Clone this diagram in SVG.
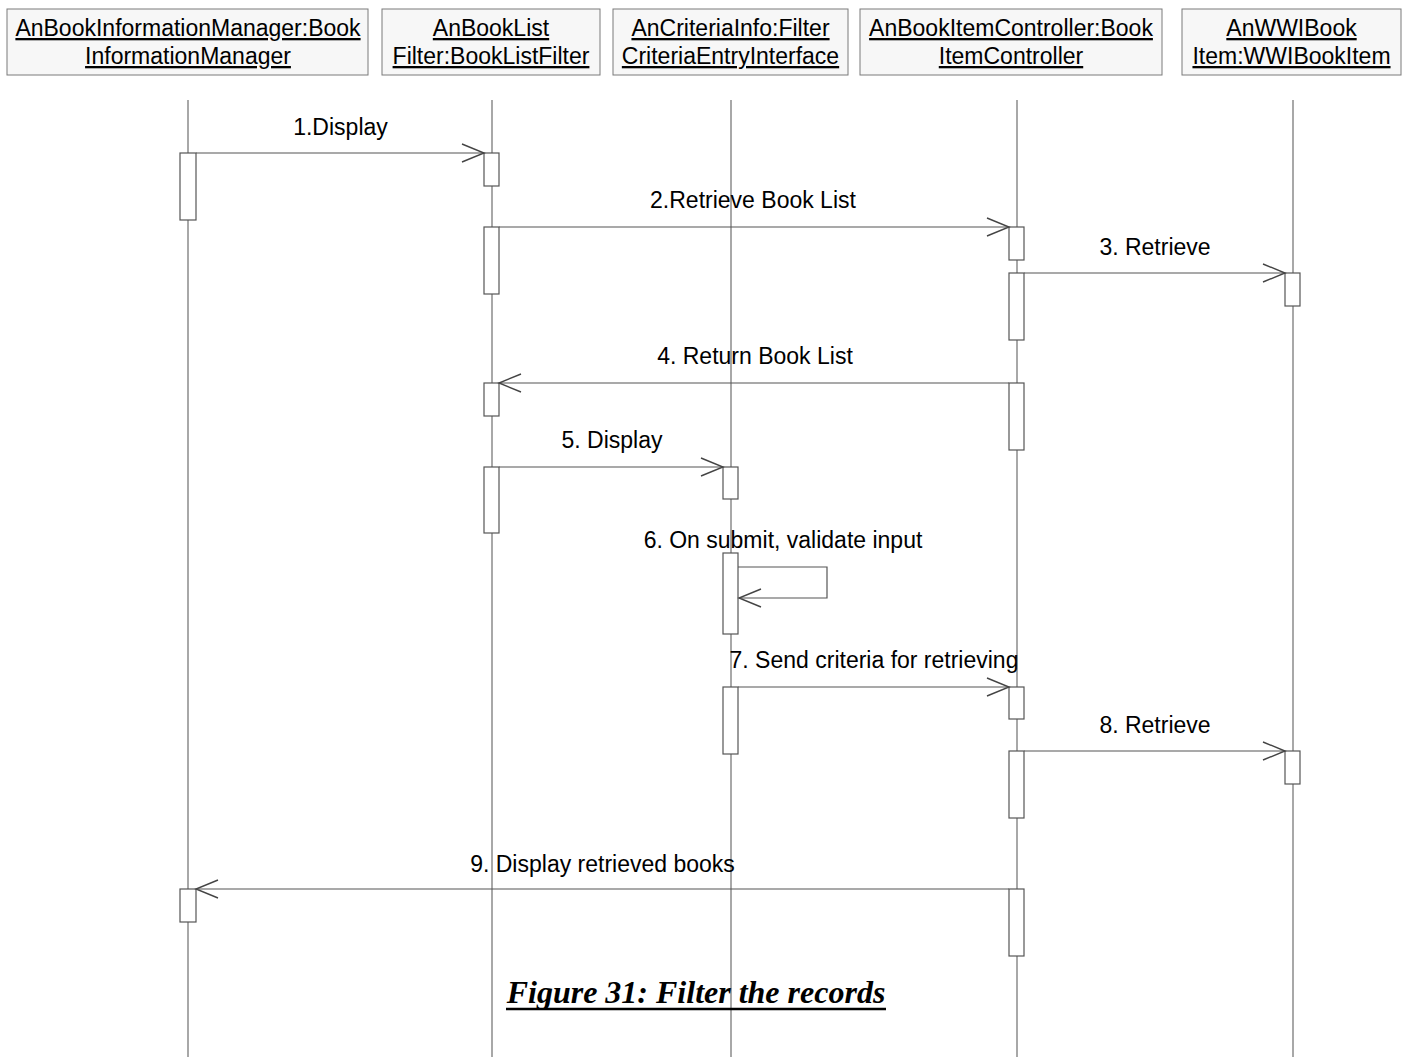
<svg xmlns="http://www.w3.org/2000/svg" width="1408" height="1057" viewBox="0 0 1408 1057">
<style>
.box{fill:#f7f7f7;stroke:#7a7a7a;stroke-width:1}
.nt{font-family:"Liberation Sans",Arial,sans-serif;font-size:23px;fill:#000;text-anchor:middle;text-decoration:underline}
.life{stroke:#6e6e6e;stroke-width:1.2;fill:none}
.act{fill:#fff;stroke:#555;stroke-width:1.2}
.msg{stroke:#555;stroke-width:1.2;fill:none;marker-end:url(#open)}
.ml{font-family:"Liberation Sans",Arial,sans-serif;font-size:23px;fill:#000;text-anchor:middle}
.cap{font-family:"Liberation Serif","Times New Roman",serif;font-size:32px;font-weight:bold;font-style:italic;fill:#000;text-anchor:middle}
</style>
<defs>
<marker id="open" markerUnits="userSpaceOnUse" markerWidth="26" markerHeight="22" viewBox="0 0 26 22" refX="23" refY="10" orient="auto">
<path d="M1,1 L23,10 L1,19" fill="none" stroke="#444" stroke-width="1.4"/>
</marker>
</defs>
<rect width="1408" height="1057" fill="#fff"/>
<g id="lifelines">
<line class="life" x1="188" y1="100" x2="188" y2="1057"/>
<line class="life" x1="492" y1="100" x2="492" y2="1057"/>
<line class="life" x1="731" y1="100" x2="731" y2="1057"/>
<line class="life" x1="1017" y1="100" x2="1017" y2="1057"/>
<line class="life" x1="1293" y1="100" x2="1293" y2="1057"/>
</g>
<g id="node-bim">
<rect class="box" x="7" y="9" width="361" height="66"/>
<text class="nt" x="188" y="36">AnBookInformationManager:Book</text>
<text class="nt" x="188" y="64">InformationManager</text>
</g>
<g id="node-blf">
<rect class="box" x="382" y="9" width="218" height="66"/>
<text class="nt" x="491" y="36">AnBookList</text>
<text class="nt" x="491" y="64">Filter:BookListFilter</text>
</g>
<g id="node-ci">
<rect class="box" x="613" y="9" width="235" height="66"/>
<text class="nt" x="730.5" y="36">AnCriteriaInfo:Filter</text>
<text class="nt" x="730.5" y="64">CriteriaEntryInterface</text>
</g>
<g id="node-bic">
<rect class="box" x="860" y="9" width="302" height="66"/>
<text class="nt" x="1011" y="36">AnBookItemController:Book</text>
<text class="nt" x="1011" y="64">ItemController</text>
</g>
<g id="node-wwi">
<rect class="box" x="1182" y="9" width="219" height="66"/>
<text class="nt" x="1291.5" y="36">AnWWIBook</text>
<text class="nt" x="1291.5" y="64">Item:WWIBookItem</text>
</g>
<g id="activations">
<rect class="act" x="180" y="153" width="16" height="67"/>
<rect class="act" x="180" y="889" width="16" height="33"/>
<rect class="act" x="484" y="153" width="15" height="33"/>
<rect class="act" x="484" y="227" width="15" height="67"/>
<rect class="act" x="484" y="383" width="15" height="33"/>
<rect class="act" x="484" y="467" width="15" height="66"/>
<rect class="act" x="723" y="467" width="15" height="32"/>
<rect class="act" x="723" y="553" width="15" height="81"/>
<rect class="act" x="723" y="687" width="15" height="67"/>
<rect class="act" x="1009" y="227" width="15" height="33"/>
<rect class="act" x="1009" y="273" width="15" height="67"/>
<rect class="act" x="1009" y="383" width="15" height="67"/>
<rect class="act" x="1009" y="687" width="15" height="32"/>
<rect class="act" x="1009" y="751" width="15" height="67"/>
<rect class="act" x="1009" y="889" width="15" height="67"/>
<rect class="act" x="1285" y="273" width="15" height="33"/>
<rect class="act" x="1285" y="751" width="15" height="33"/>
</g>
<g id="connectors">
<line class="msg" x1="196" y1="153" x2="484" y2="153"/>
<line class="msg" x1="499" y1="227" x2="1009" y2="227"/>
<line class="msg" x1="1024" y1="273" x2="1285" y2="273"/>
<line class="msg" x1="1009" y1="383" x2="499" y2="383"/>
<line class="msg" x1="499" y1="467" x2="723" y2="467"/>
<path class="msg" d="M738,567 H827 V598 H739"/>
<line class="msg" x1="738" y1="687" x2="1009" y2="687"/>
<line class="msg" x1="1024" y1="751" x2="1285" y2="751"/>
<line class="msg" x1="1009" y1="889" x2="196" y2="889"/>
</g>
<g id="labels">
<text class="ml" x="340.5" y="135">1.Display</text>
<text class="ml" x="753" y="208">2.Retrieve Book List</text>
<text class="ml" x="1155" y="255">3. Retrieve</text>
<text class="ml" x="755" y="364">4. Return Book List</text>
<text class="ml" x="612" y="448">5. Display</text>
<text class="ml" x="783" y="548">6. On submit, validate input</text>
<text class="ml" x="874" y="668">7. Send criteria for retrieving</text>
<text class="ml" x="1155" y="733">8. Retrieve</text>
<text class="ml" x="602.5" y="872">9. Display retrieved books</text>
</g>
<g id="caption">
<text class="cap" x="696" y="1003">Figure 31: Filter the records</text>
<line x1="506" y1="1009" x2="886" y2="1009" stroke="#000" stroke-width="2.5"/>
</g>
</svg>
